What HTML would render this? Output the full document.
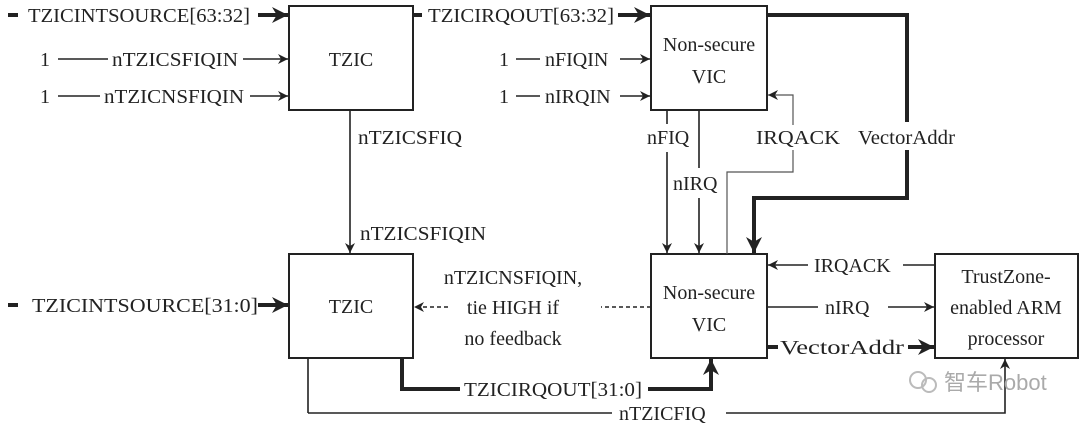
<!DOCTYPE html>
<html><head><meta charset="utf-8"><style>
html,body{margin:0;padding:0;background:#fff;width:1080px;height:430px;overflow:hidden}
text{font-family:"Liberation Serif",serif;font-size:20px;fill:#222}
</style></head><body>
<svg width="1080" height="430" viewBox="0 0 1080 430" xmlns="http://www.w3.org/2000/svg">
<defs>
<marker id="a" viewBox="0 0 10 10" refX="10" refY="5" markerWidth="15" markerHeight="10" markerUnits="userSpaceOnUse" orient="auto"><path d="M0,0 L10,5 L0,10 L3,5z" fill="#222"/></marker>
<marker id="b" viewBox="0 0 10 10" refX="10" refY="5" markerWidth="20" markerHeight="16" markerUnits="userSpaceOnUse" orient="auto"><path d="M0,0 L10,5 L0,10 L3,5z" fill="#222"/></marker>
</defs>
<g fill="none" stroke="#222" stroke-width="2">
<rect x="289" y="6" width="124" height="104"/>
<rect x="651" y="6" width="116" height="104"/>
<rect x="289" y="254" width="124" height="104"/>
<rect x="651" y="254" width="116" height="104"/>
<rect x="935" y="254" width="143" height="104"/>
</g>
<g fill="none" stroke="#222" stroke-width="4">
<line x1="8" y1="15" x2="18" y2="15"/>
<line x1="258" y1="15" x2="288" y2="15" marker-end="url(#b)"/>
<line x1="413" y1="15" x2="422" y2="15"/>
<line x1="618" y1="15" x2="650" y2="15" marker-end="url(#b)"/>
<polyline points="767,15 907,15 907,198 754,198 754,253" marker-end="url(#b)"/>
<line x1="8" y1="305" x2="18" y2="305"/>
<line x1="258" y1="305" x2="288" y2="305" marker-end="url(#b)"/>
<polyline points="402,358 402,389 460,389"/>
<polyline points="648,389 711,389 711,359" marker-end="url(#b)"/>
<line x1="767" y1="347" x2="778" y2="347"/>
<line x1="908" y1="347" x2="934" y2="347" marker-end="url(#b)"/>
</g>
<rect x="855" y="122" width="102" height="28" fill="#fff"/>
<g fill="none" stroke="#222" stroke-width="1.6">
<line x1="58" y1="59" x2="108" y2="59"/>
<line x1="243" y1="59" x2="288" y2="59" marker-end="url(#a)"/>
<line x1="58" y1="96" x2="100" y2="96"/>
<line x1="250" y1="96" x2="288" y2="96" marker-end="url(#a)"/>
<line x1="516" y1="59" x2="540" y2="59"/>
<line x1="620" y1="59" x2="650" y2="59" marker-end="url(#a)"/>
<line x1="516" y1="96" x2="540" y2="96"/>
<line x1="620" y1="96" x2="650" y2="96" marker-end="url(#a)"/>
<line x1="350" y1="110" x2="350" y2="253" marker-end="url(#a)"/>
<line x1="667" y1="110" x2="667" y2="124"/>
<line x1="667" y1="152" x2="667" y2="253" marker-end="url(#a)"/>
<line x1="699" y1="110" x2="699" y2="168"/>
<line x1="699" y1="198" x2="699" y2="253" marker-end="url(#a)"/>
<line x1="308" y1="358" x2="308" y2="413"/>
<line x1="308" y1="413" x2="612" y2="413"/>
<polyline points="726,413 1005,413 1005,359" marker-end="url(#a)"/>
<line x1="935" y1="265" x2="903" y2="265"/>
<line x1="808" y1="265" x2="768" y2="265" marker-end="url(#a)"/>
<line x1="767" y1="307" x2="818" y2="307"/>
<line x1="888" y1="307" x2="934" y2="307" marker-end="url(#a)"/>
</g>
<g fill="none" stroke="#555" stroke-width="1.2">
<polyline points="727,254 727,172 793,172 793,150"/>
<polyline points="793,125 793,95 768,95" marker-end="url(#a)"/>
</g>
<g fill="none" stroke="#222" stroke-width="1.5" stroke-dasharray="4,3">
<line x1="651" y1="307" x2="601" y2="307"/>
<line x1="448" y1="307" x2="414" y2="307" marker-end="url(#a)"/>
</g>
<text x="28" y="22" textLength="222" lengthAdjust="spacingAndGlyphs">TZICINTSOURCE[63:32]</text>
<text x="40" y="66">1</text><text x="112" y="66" textLength="126" lengthAdjust="spacingAndGlyphs">nTZICSFIQIN</text>
<text x="40" y="103">1</text><text x="104" y="103" textLength="140" lengthAdjust="spacingAndGlyphs">nTZICNSFIQIN</text>
<text x="351" y="66" text-anchor="middle">TZIC</text>
<text x="428" y="22" textLength="186" lengthAdjust="spacingAndGlyphs">TZICIRQOUT[63:32]</text>
<text x="499" y="66">1</text><text x="545" y="66">nFIQIN</text>
<text x="499" y="103">1</text><text x="545" y="103">nIRQIN</text>
<text x="709" y="51" text-anchor="middle">Non-secure</text>
<text x="709" y="83" text-anchor="middle">VIC</text>
<text x="358" y="144" textLength="104" lengthAdjust="spacingAndGlyphs">nTZICSFIQ</text>
<text x="647" y="144">nFIQ</text>
<text x="673" y="190">nIRQ</text>
<text x="756" y="144" textLength="84" lengthAdjust="spacingAndGlyphs">IRQACK</text>
<text x="858" y="144" textLength="97" lengthAdjust="spacingAndGlyphs">VectorAddr</text>
<text x="360" y="240" textLength="126" lengthAdjust="spacingAndGlyphs">nTZICSFIQIN</text>
<text x="32" y="312" textLength="226" lengthAdjust="spacingAndGlyphs">TZICINTSOURCE[31:0]</text>
<text x="351" y="313" text-anchor="middle">TZIC</text>
<text x="513" y="284" text-anchor="middle">nTZICNSFIQIN,</text>
<text x="513" y="314" text-anchor="middle">tie HIGH if</text>
<text x="513" y="345" text-anchor="middle">no feedback</text>
<text x="709" y="299" text-anchor="middle">Non-secure</text>
<text x="709" y="331" text-anchor="middle">VIC</text>
<text x="814" y="272">IRQACK</text>
<text x="825" y="314">nIRQ</text>
<text x="780" y="354" textLength="124" lengthAdjust="spacingAndGlyphs">VectorAddr</text>
<text x="1006" y="283" text-anchor="middle">TrustZone-</text>
<text x="1006" y="314" text-anchor="middle">enabled ARM</text>
<text x="1006" y="345" text-anchor="middle">processor</text>
<text x="464" y="396" textLength="178" lengthAdjust="spacingAndGlyphs">TZICIRQOUT[31:0]</text>
<text x="619" y="420">nTZICFIQ</text>
<circle cx="918" cy="380" r="8" fill="none" stroke="#bbb" stroke-width="2"/>
<circle cx="929" cy="385" r="7" fill="none" stroke="#bbb" stroke-width="2"/>
<text x="944" y="390" style="font-family:'Liberation Sans','Noto Sans CJK SC',sans-serif;font-size:22px;fill:#aaa">智车Robot</text>
</svg>
</body></html>
